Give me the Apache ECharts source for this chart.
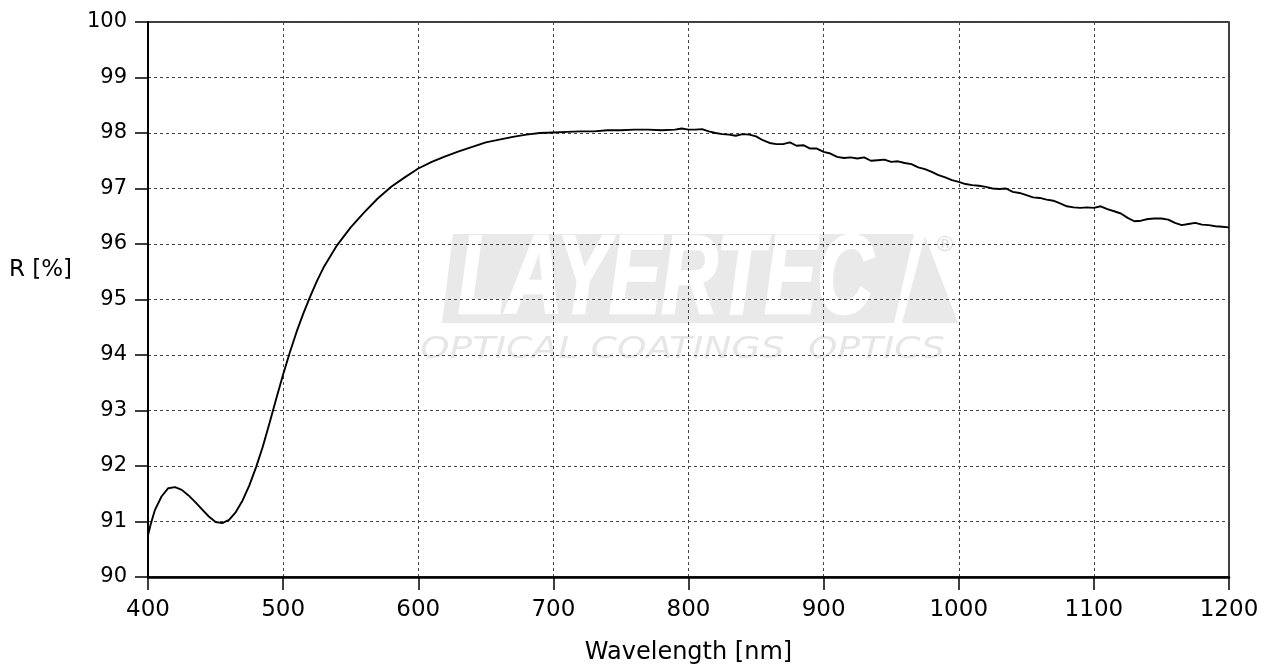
<!DOCTYPE html>
<html><head><meta charset="utf-8">
<script src="https://cdn.jsdelivr.net/npm/echarts@6/dist/echarts.min.js"></script>
<style>html,body{margin:0;padding:0;background:#fff}#c{width:1276px;height:670px}</style>
</head><body><div id="c"></div>
<script>
const wavelengths = [400,402,405,410,415,420,425,430,435,440,445,450,455,460,465,470,475,480,485,490,495,500,505,510,515,520,525,530,540,550,560,570,580,590,600,610,620,630,640,650,660,670,680,690,700,710,720,730,740,750,760,770,780,790,795,800,805,810,815,820,825,830,835,840,845,850,855,860,865,870,875,880,885,890,895,900,905,910,915,920,925,930,935,940,945,950,955,960,965,970,975,980,985,990,995,1000,1005,1010,1015,1020,1025,1030,1035,1040,1045,1050,1055,1060,1065,1070,1075,1080,1085,1090,1095,1100,1105,1110,1115,1120,1125,1130,1135,1140,1145,1150,1155,1160,1165,1170,1175,1180,1185,1190,1195,1200];
const reflectance = [90.75,90.95,91.2,91.45,91.6,91.62,91.57,91.47,91.35,91.22,91.09,90.99,90.97,91.03,91.17,91.38,91.65,91.98,92.35,92.78,93.22,93.65,94.05,94.42,94.75,95.05,95.33,95.58,95.98,96.3,96.57,96.82,97.03,97.2,97.36,97.48,97.58,97.67,97.75,97.83,97.88,97.93,97.97,98.0,98.01,98.02,98.03,98.03,98.05,98.05,98.06,98.06,98.05,98.06,98.08,98.06,98.06,98.07,98.03,98.0,97.98,97.97,97.95,97.98,97.97,97.94,97.87,97.82,97.8,97.8,97.83,97.77,97.78,97.72,97.72,97.66,97.63,97.57,97.55,97.56,97.54,97.56,97.5,97.51,97.52,97.48,97.49,97.46,97.44,97.38,97.35,97.3,97.24,97.2,97.15,97.12,97.08,97.06,97.05,97.03,97.0,96.99,97.0,96.94,96.92,96.88,96.84,96.83,96.8,96.78,96.73,96.68,96.66,96.65,96.66,96.65,96.68,96.63,96.59,96.55,96.47,96.41,96.42,96.45,96.46,96.46,96.44,96.38,96.34,96.36,96.38,96.35,96.34,96.32,96.31,96.3];
const xTitle = 'Wavelength [nm]';
const yTitle = 'R [%]';
const logoText = 'LAYERTEC';
const logoSub = 'OPTICAL COATINGS  OPTICS';

const chart = echarts.init(document.getElementById('c'));
const font = '"DejaVu Sans", Verdana, sans-serif';
chart.setOption({
  animation: false,
  grid: {left: 148, right: 47, top: 22, bottom: 92, show: true, borderColor: '#000', borderWidth: 1.5, backgroundColor: 'transparent'},
  graphic: {elements: [
    {type: 'polygon', z: -10, shape: {points: [[453,234],[914,234],[894,323],[442,323]]}, style: {fill: '#e9e9e9'}},
    {type: 'polygon', z: -10, shape: {points: [[925,236],[958,323],[902,323]]}, style: {fill: '#e9e9e9'}},
    {type: 'text', z: -9, x: 458, y: 282, scaleX: 0.7, style: {text: logoText, font: 'italic 900 112px "Liberation Sans", Arial, sans-serif', fill: '#ffffff', stroke: '#ffffff', lineWidth: 2.5, textVerticalAlign: 'middle'}},
    {type: 'text', z: -9, x: 420, y: 350, scaleX: 1.25, style: {text: logoSub, font: 'italic 200 30px "DejaVu Sans", sans-serif', fill: '#e6e6e6', textVerticalAlign: 'middle'}},
    {type: 'text', z: -9, x: 945, y: 245, style: {text: '®', font: '22px "DejaVu Sans", sans-serif', fill: '#dddddd', textAlign: 'center', textVerticalAlign: 'middle'}},
    {type: 'text', left: 9, top: 259, style: {text: yTitle, font: '23px ' + font, fill: '#000'}}
  ]},
  xAxis: {
    type: 'value', min: 400, max: 1200, interval: 100,
    name: xTitle, nameLocation: 'middle', nameGap: 64,
    nameTextStyle: {fontFamily: font, fontSize: 24, color: '#000'},
    axisLine: {lineStyle: {color: '#000', width: 2.5}},
    axisTick: {length: 13, lineStyle: {color: '#000', width: 1.5}},
    axisLabel: {fontFamily: font, fontSize: 23, color: '#000', margin: 22, formatter: v => String(v)},
    splitLine: {show: true, lineStyle: {color: '#444', type: [3,3], width: 1}}
  },
  yAxis: {
    type: 'value', min: 90, max: 100, interval: 1,
    axisLine: {show: true, lineStyle: {color: '#000', width: 2}},
    axisTick: {show: true, length: 13, lineStyle: {color: '#000', width: 1.5}},
    axisLabel: {fontFamily: font, fontSize: 21, color: '#000', margin: 21},
    splitLine: {show: true, lineStyle: {color: '#444', type: [3,3], width: 1}}
  },
  series: [{
    type: 'line', showSymbol: false, smooth: false,
    data: wavelengths.map((w, i) => [w, reflectance[i]]),
    lineStyle: {color: '#000', width: 1.9}
  }]
});
</script></body></html>
